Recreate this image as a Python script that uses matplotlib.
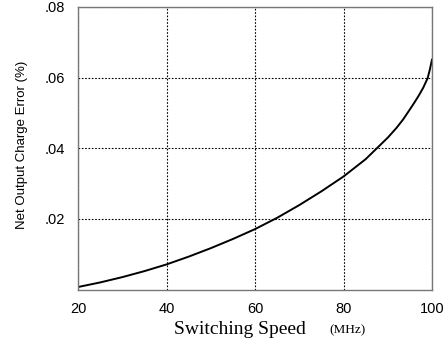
import numpy as np
import matplotlib.pyplot as plt

# Data
speed_mhz = [20, 25, 30, 35, 40, 45, 50, 55, 60, 65, 70, 75, 80, 85, 90, 92, 93.5,
             95, 96, 97, 98, 99, 99.5, 100]
charge_error = [0.0007, 0.0020, 0.0035, 0.0052, 0.0071, 0.0093, 0.0117, 0.0143, 0.0171,
                0.0203, 0.0239, 0.0278, 0.0320, 0.0369, 0.0430, 0.0458, 0.0482,
                0.0510, 0.0529, 0.0549, 0.0571, 0.0598, 0.0622, 0.0651]

x_ticks = [20, 40, 60, 80, 100]
y_ticks = [0.02, 0.04, 0.06, 0.08]
y_tick_labels = [".02", ".04", ".06", ".08"]

W, H = 446, 343
fig = plt.figure(figsize=(W / 100, H / 100), dpi=100)
ax = fig.add_axes([78 / W, 1 - 289.5 / H, (432 - 78) / W, (289.5 - 7) / H])

ax.plot(speed_mhz, charge_error, color="black", linewidth=1.4, solid_joinstyle="round")

ax.set_xlim(20, 100)
ax.set_ylim(0, 0.08)
ax.set_xticks(x_ticks)
ax.set_yticks(y_ticks)
ax.set_yticklabels(y_tick_labels)
ax.tick_params(length=0, labelsize=10.5, pad=9)
for lbl in ax.get_xticklabels() + ax.get_yticklabels():
    lbl.set_fontfamily("Liberation Sans")

ax.grid(True, color="black", linestyle=(0, (1.5, 1.5)), linewidth=0.8)
for s in ax.spines.values():
    s.set_color("#777777")
    s.set_linewidth(1.0)

fig.text(22 / W, 1 - 145 / H, "Net Output Charge Error (%)", rotation=90,
         ha="center", va="center", fontsize=9.5, family="Liberation Sans")
fig.text(240 / W, 1 - 329 / H, "Switching Speed", ha="center", va="center",
         fontsize=14, family="Liberation Serif")
fig.text(348 / W, 1 - 330 / H, "(MHz)", ha="center", va="center",
         fontsize=9.5, family="Liberation Serif")

fig.savefig("out.png", dpi=100)
